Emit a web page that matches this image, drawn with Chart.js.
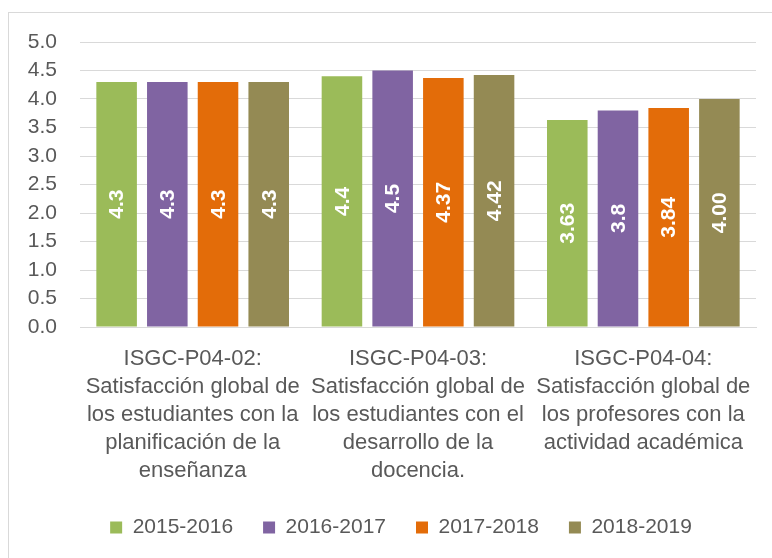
<!DOCTYPE html>
<html>
<head>
<meta charset="utf-8">
<script src="https://cdn.jsdelivr.net/npm/chart.js@4.4.0/dist/chart.umd.min.js"></script>
<style>
  html, body { margin: 0; padding: 0; background: #fff; overflow: hidden; }
  .frame { position: absolute; left: 8px; top: 12px; width: 900px; height: 700px; border: 1px solid #d9d9d9; }
  .wrap { position: absolute; left: 0; top: 0; width: 772px; height: 558px; }
</style>
</head>
<body>
<div class="frame"></div>
<div class="wrap"><canvas id="chart"></canvas></div>
<script>
// categories (one array per wrapped label)
const categories = [
  ["ISGC-P04-02:", "Satisfacción global de", "los estudiantes con la", "planificación de la", "enseñanza"],
  ["ISGC-P04-03:", "Satisfacción global de", "los estudiantes con el", "desarrollo de la", "docencia."],
  ["ISGC-P04-04:", "Satisfacción global de", "los profesores con la", "actividad académica"]
];

const seriesNames = ["2015-2016", "2016-2017", "2017-2018", "2018-2019"];

const values2015 = [4.3, 4.4, 3.63];
const values2016 = [4.3, 4.5, 3.8];
const values2017 = [4.3, 4.37, 3.84];
const values2018 = [4.3, 4.42, 4.00];

// labels as printed on the bars
const labels2015 = ["4.3", "4.4", "3.63"];
const labels2016 = ["4.3", "4.5", "3.8"];
const labels2017 = ["4.3", "4.37", "3.84"];
const labels2018 = ["4.3", "4.42", "4.00"];

const colors = ["#9bbb59", "#8064a2", "#e36c09", "#948a54"];

const FONT = "'Liberation Sans', Arial, sans-serif";
const GREY = "#595959";

const allValues = [values2015, values2016, values2017, values2018];
const allLabels = [labels2015, labels2016, labels2017, labels2018];

// write the value inside each bar, turned upright
const barText = {
  id: "barText",
  afterLayout(chart) {
    // legend sits centred on the (wider) frame, a bit right of the canvas centre
    chart.legend.left += 11;
    chart.legend.right += 11;
  },
  afterDatasetsDraw(chart) {
    const ctx = chart.ctx;
    ctx.save();
    ctx.fillStyle = "#fff";
    ctx.font = "bold 21px " + FONT;
    ctx.textAlign = "center";
    ctx.textBaseline = "middle";
    chart.data.datasets.forEach((ds, i) => {
      chart.getDatasetMeta(i).data.forEach((bar, j) => {
        const p = bar.getProps(["x", "y", "base"], true);
        ctx.save();
        ctx.translate(p.x, (p.y + p.base) / 2);
        ctx.rotate(-Math.PI / 2);
        ctx.fillText(allLabels[i][j], 0, 1);
        ctx.restore();
      });
    });
    ctx.restore();
  }
};

new Chart(document.getElementById("chart"), {
  type: "bar",
  data: {
    labels: categories,
    datasets: seriesNames.map((name, i) => ({
      label: name,
      data: allValues[i],
      backgroundColor: colors[i],
      barPercentage: 0.8,
      categoryPercentage: 0.9
    }))
  },
  options: {
    responsive: true,
    maintainAspectRatio: false,
    animation: false,
    layout: { padding: { left: 24, right: 16, top: 42, bottom: 10 } },
    plugins: {
      tooltip: { enabled: false },
      legend: {
        position: "bottom",
        labels: {
          color: GREY,
          font: { family: FONT, size: 21 },
          boxWidth: 12,
          boxHeight: 12,
          padding: 30
        }
      }
    },
    scales: {
      x: {
        grid: { display: false, drawTicks: false },
        border: { color: "#d9d9d9" },
        ticks: {
          color: GREY,
          font: { family: FONT, size: 22, lineHeight: 1.27 },
          padding: 18,
          maxRotation: 0,
          autoSkip: false
        },
        afterFit: s => { s.height = 160; }
      },
      y: {
        min: 0,
        max: 5,
        grid: { color: "#d9d9d9", drawTicks: false },
        border: { display: false },
        ticks: {
          stepSize: 0.5,
          color: GREY,
          font: { family: FONT, size: 21 },
          padding: 23,
          callback: v => v.toFixed(1)
        },
        afterFit: s => { s.width = 56; }
      }
    }
  },
  plugins: [barText]
});
</script>
</body>
</html>
